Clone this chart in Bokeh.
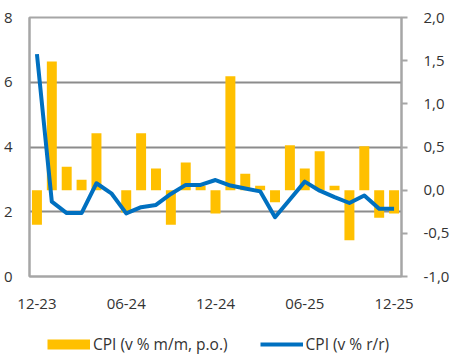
from bokeh.plotting import figure
from bokeh.layouts import column
from bokeh.models import (Range1d, LinearAxis, FixedTicker, CustomJSTickFormatter,
                          Legend, LegendItem, ColumnDataSource)
from bokeh.embed import file_html
from bokeh.resources import INLINE

months = ["12-23", "01-24", "02-24", "03-24", "04-24", "05-24", "06-24", "07-24",
          "08-24", "09-24", "10-24", "11-24", "12-24", "01-25", "02-25", "03-25",
          "04-25", "05-25", "06-25", "07-25", "08-25", "09-25", "10-25", "11-25", "12-25"]
cpi_mm = [-0.40, 1.49, 0.27, 0.12, 0.66, 0.0, -0.26, 0.66, 0.25, -0.40, 0.32, 0.05,
          -0.27, 1.32, 0.19, 0.05, -0.14, 0.52, 0.25, 0.45, 0.05, -0.58, 0.51, -0.32, -0.27]
cpi_yy = [6.87, 2.31, 1.96, 1.96, 2.88, 2.57, 1.95, 2.14, 2.21, 2.55, 2.83, 2.83,
          2.98, 2.81, 2.72, 2.63, 1.83, 2.38, 2.93, 2.65, 2.45, 2.27, 2.50, 2.09, 2.09]
tick_months = ["12-23", "06-24", "12-24", "06-25", "12-25"]
left_ticks = [0, 2, 4, 6, 8]
right_ticks = [-1.0, -0.5, 0.0, 0.5, 1.0, 1.5, 2.0]
label_mm = "CPI (v % m/m, p.o.)"
label_yy = "CPI (v % r/r)"

YELLOW = "#FFC000"
BLUE = "#0070C0"
FRAME = "#A6A6A6"
GRID = "#8C8C8C"
TEXT = "#333333"
FONT = "Open Sans"

xs = list(range(len(months)))
src = ColumnDataSource(dict(x=xs, mm=cpi_mm, yy=cpi_yy))

p = figure(frame_width=372, frame_height=259, output_backend="svg", toolbar_location=None,
           x_range=Range1d(-0.5, len(months) - 0.5), y_range=Range1d(0, 8),
           min_border_left=28, min_border_right=46, min_border_top=17, min_border_bottom=44)
p.extra_y_ranges = {"mm": Range1d(-1.0, 2.0)}

p.outline_line_color = FRAME
p.outline_line_width = 2
p.background_fill_color = "white"
p.border_fill_color = "white"

# left axis
p.yaxis.ticker = FixedTicker(ticks=left_ticks)
p.yaxis.major_tick_line_color = None
p.yaxis.minor_tick_line_color = None
p.yaxis.major_tick_out = 0
p.yaxis.axis_line_color = FRAME
p.yaxis.axis_line_width = 2
p.yaxis.major_label_standoff = 17
p.yaxis.major_label_text_font = FONT
p.yaxis.major_label_text_font_size = "15px"
p.yaxis.major_label_text_color = TEXT

# bottom axis
p.xaxis.ticker = FixedTicker(ticks=[months.index(m) for m in tick_months])
p.xaxis.major_label_overrides = {months.index(m): m for m in tick_months}
p.xaxis.major_tick_line_color = None
p.xaxis.minor_tick_line_color = None
p.xaxis.major_tick_out = 0
p.xaxis.axis_line_color = FRAME
p.xaxis.axis_line_width = 2
p.xaxis.major_label_standoff = 22
p.xaxis.major_label_text_font = FONT
p.xaxis.major_label_text_font_size = "15px"
p.xaxis.major_label_text_color = TEXT

# right axis
ra = LinearAxis(y_range_name="mm", ticker=FixedTicker(ticks=right_ticks),
                formatter=CustomJSTickFormatter(code="return tick.toFixed(1).replace('.', ',');"))
ra.axis_line_color = FRAME
ra.axis_line_width = 2
ra.major_tick_line_color = FRAME
ra.major_tick_line_width = 2
ra.major_tick_out = 6
ra.major_tick_in = 0
ra.minor_tick_line_color = None
ra.major_label_standoff = 16
ra.major_label_text_font = FONT
ra.major_label_text_font_size = "15px"
ra.major_label_text_color = TEXT
p.add_layout(ra, "right")

p.xgrid.visible = False
p.ygrid.ticker = FixedTicker(ticks=[2, 4, 6])
p.ygrid.grid_line_color = GRID
p.ygrid.grid_line_width = 2

p.vbar(x="x", top="mm", bottom=0, width=0.67, source=src, y_range_name="mm",
       fill_color=YELLOW, line_color=None)
p.line(x="x", y="yy", source=src, line_color=BLUE, line_width=4, line_join="round")

# legend strip below the chart (hidden copies of the series only feed the legend swatches)
lp = figure(width=441, height=35, output_backend="svg", toolbar_location=None,
            x_range=Range1d(-0.5, len(months) - 0.5), y_range=Range1d(0, 8),
            x_axis_type=None, y_axis_type=None, min_border=0)
lp.outline_line_color = None
lp.xgrid.visible = False
lp.ygrid.visible = False
sw_mm = lp.line(x="x", y="mm", source=src, line_color=YELLOW, line_width=10,
                line_cap="butt", visible=False)
sw_yy = lp.line(x="x", y="yy", source=src, line_color=BLUE, line_width=4,
                line_cap="butt", visible=False)

legend = Legend(items=[LegendItem(label=label_mm, renderers=[sw_mm]),
                       LegendItem(label=label_yy, renderers=[sw_yy])],
                orientation="horizontal", location=(18, 0),
                glyph_width=43, glyph_height=20, label_height=20, label_standoff=3,
                spacing=32, padding=0, margin=0, border_line_color=None,
                background_fill_alpha=0, inactive_fill_alpha=0,
                label_text_font=FONT, label_text_font_size="15.5px", label_text_color=TEXT)
lp.add_layout(legend)

layout = column(p, lp, spacing=0)
open("out.html", "w").write(file_html(layout, INLINE))
